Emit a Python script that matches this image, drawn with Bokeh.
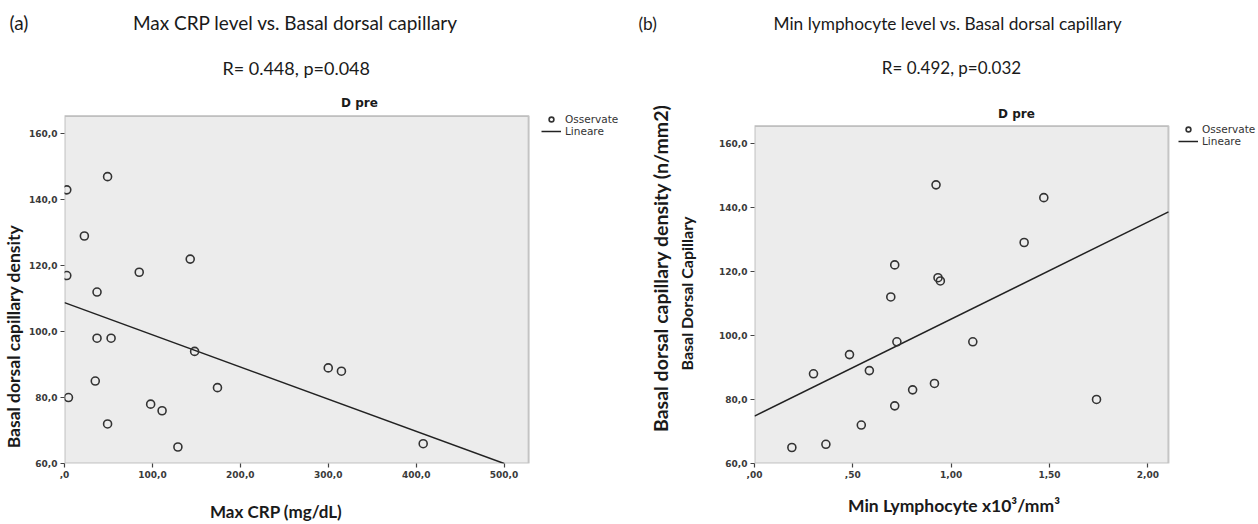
from bokeh.plotting import figure
from bokeh.layouts import row
from bokeh.models import (Label, FixedTicker, Legend, LegendItem, Range1d,
                          LinearAxis, Title, BoxAnnotation)
from bokeh.embed import file_html
from bokeh.resources import INLINE

# ---------------- data ----------------
crp = [2.6, 49, 22.6, 2.6, 85, 143, 37, 37, 53, 148, 35, 4.5, 174, 98, 111, 49, 129, 300, 315, 408]
density_a = [143, 147, 129, 117, 118, 122, 112, 98, 98, 94, 85, 80, 83, 78, 76, 72, 65, 89, 88, 66]
fit_a = [108.8, -0.0976]          # intercept, slope of the linear fit

lymph = [0.19, 0.30, 0.363, 0.483, 0.543, 0.584, 0.693, 0.713, 0.724, 0.713,
         0.804, 0.915, 0.923, 0.933, 0.945, 1.11, 1.371, 1.471, 1.739]
density_b = [65, 88, 66, 94, 72, 89, 112, 122, 98, 78, 83, 85, 147, 118, 117, 98, 129, 143, 80]
fit_b = [74.8, 30.3]

xbox_a = [0, 528]
xbox_b = [0, 2.105]
ybox = [60, 165.4]
xticks_a = [0, 100, 200, 300, 400, 500]
xlabels_a = [",0", "100,0", "200,0", "300,0", "400,0", "500,0"]
xticks_b = [0, 0.5, 1.0, 1.5, 2.0]
xlabels_b = [",00", ",50", "1,00", "1,50", "2,00"]
yticks = [60, 80, 100, 120, 140, 160]
ylabels = ["60,0", "80,0", "100,0", "120,0", "140,0", "160,0"]

TXT = "#1a1a1a"
EM, EN, PER4 = "\u2003", "\u2002", "\u2005"
H = 524
TOP = 40          # frame top (title row above it)
BOTTOM = 463      # frame bottom = x axis of both panels
W_A = 636         # left figure width; right figure starts here


def pad(text, shift, fs, side):
    """pad text with em/en spaces so that its visible part moves by `shift` px"""
    total = 2 * shift
    emw = 0.765 * fs
    n = int(total // emw)
    s = EM * n + (EN if total - n * emw > emw * 0.25 else "")
    return text + s if side == "end" else s + text


def style_axis(ax):
    ax.axis_line_color = None
    ax.major_tick_line_color = "#444444"
    ax.major_tick_line_width = 1.2
    ax.major_tick_in = 0
    ax.major_tick_out = 4
    ax.minor_tick_line_color = None
    ax.major_label_text_font = "DejaVu Sans"
    ax.major_label_text_font_style = "bold"
    ax.major_label_text_font_size = "9px"
    ax.major_label_text_color = "#3a3a3a"
    ax.major_label_standoff = 3
    ax.axis_label_text_font = "Lato"
    ax.axis_label_text_font_style = "bold"
    ax.axis_label_text_color = TXT


def lab(p, x, y, text, size, font="Lato", bold=False):
    p.add_layout(Label(x=x, y=y, x_units="screen", y_units="screen", text=text,
                       text_font=font, text_font_size=size,
                       text_font_style="bold" if bold else "normal",
                       text_align="center", text_baseline="middle", text_color=TXT))


def panel(xs, ys, fit, xbox, xt, xl, w, left, box_right, box_top, leg_dx):
    fw = w - left
    bw = box_right - left
    x_end = xbox[1] * fw / bw
    y_end = ybox[0] + (ybox[1] - ybox[0]) * (BOTTOM - TOP) / (BOTTOM - box_top)
    p = figure(width=w, height=H, x_range=Range1d(xbox[0], x_end), y_range=Range1d(ybox[0], y_end),
               output_backend="svg", toolbar_location=None, title=None,
               min_border_left=left, min_border_right=0, min_border_top=TOP,
               min_border_bottom=H - BOTTOM)
    p.background_fill_color = "white"
    p.border_fill_color = "white"
    p.outline_line_color = None
    p.grid.visible = False
    style_axis(p.xaxis[0])
    style_axis(p.yaxis[0])
    p.xaxis.ticker = FixedTicker(ticks=xt)
    p.xaxis.major_label_overrides = {t: l for t, l in zip(xt, xl)}
    p.yaxis.ticker = FixedTicker(ticks=yticks)
    p.yaxis.major_label_overrides = {t: l for t, l in zip(yticks, ylabels)}

    p.add_layout(BoxAnnotation(left=xbox[0], right=xbox[1], bottom=ybox[0], top=ybox[1],
                               fill_color="#ececec", fill_alpha=1.0, line_color="#555555",
                               line_width=2, level="underlay"))

    b0, b1 = fit
    xe = xbox[1]
    if b0 + b1 * xe < ybox[0]:
        xe = (ybox[0] - b0) / b1
    ln = p.line([xbox[0], xe], [b0, b0 + b1 * xe], line_color="#222222", line_width=1.5)
    sc = p.scatter(xs, ys, marker="circle", size=8, fill_color=None,
                   line_color="#333333", line_width=1.6)

    leg = Legend(items=[LegendItem(label="Osservate", renderers=[sc]),
                        LegendItem(label="Lineare", renderers=[ln])],
                 location=(bw + leg_dx, BOTTOM - box_top - 24), glyph_width=20, glyph_height=12,
                 label_height=12, padding=0, margin=0, spacing=0, label_standoff=4,
                 background_fill_alpha=0, border_line_alpha=0,
                 label_text_font="DejaVu Sans", label_text_font_size="10.5px",
                 label_text_color="#333333")
    p.add_layout(leg)
    return p


# ---------------- panel (a): box 63..528 x 113..463 ----------------
pa = panel(crp, density_a, fit_a, xbox_a, xticks_a, xlabels_a,
           w=W_A, left=63, box_right=528, box_top=113, leg_dx=12)
pa.add_layout(Title(text="(a)" + EM * 7 + PER4 + "Max CRP level vs. Basal dorsal capillary",
                    align="left", offset=8 - 63, vertical_align="middle", standoff=18,
                    text_font="Lato", text_font_size="19px", text_font_style="normal",
                    text_color=TXT), "above")
lab(pa, 297 - 63, BOTTOM - 67, "R= 0.448,  p=0.048", "18px")
lab(pa, 358 - 63, BOTTOM - 102, "D pre", "12px", font="DejaVu Sans", bold=True)
fs = 17.5
pa.yaxis.axis_label = pad("Basal dorsal capillary density", 335 - (TOP + BOTTOM) / 2, fs, "end")
pa.yaxis.axis_label_text_font_size = f"{fs}px"
pa.yaxis.axis_label_standoff = 2
fs = 17
pa.xaxis.axis_label = pad("Max CRP (mg/dL)", (63 + W_A) / 2 - 273, fs, "end")
pa.xaxis.axis_label_text_font_size = f"{fs}px"
pa.xaxis.axis_label_standoff = 20

# ---------------- panel (b): box 754..1168 x 123..463 ----------------
pb = panel(lymph, density_b, fit_b, xbox_b, xticks_b, xlabels_b,
           w=1258 - W_A, left=754 - W_A, box_right=1168 - W_A, box_top=123, leg_dx=10)
pb.add_layout(Title(text="(b)" + EM * 8 + EN + PER4 + "Min lymphocyte level vs. Basal dorsal capillary",
                    align="left", offset=638 - 754, vertical_align="middle", standoff=18,
                    text_font="Lato", text_font_size="17.3px", text_font_style="normal",
                    text_color=TXT), "above")
lab(pb, 951 - 754, BOTTOM - 67, "R= 0.492, p=0.032", "17px")
lab(pb, 1016 - 754, BOTTOM - 113, "D pre", "12px", font="DejaVu Sans", bold=True)
fs = 16
pb.yaxis.axis_label = pad("Basal Dorsal Capillary", 291 - (TOP + BOTTOM) / 2, fs, "end")
pb.yaxis.axis_label_text_font_size = f"{fs}px"
pb.yaxis.axis_label_standoff = 20
fs = 19.5
outer = LinearAxis(ticker=FixedTicker(ticks=[]), axis_line_color=None,
                   major_tick_line_color=None, minor_tick_line_color=None,
                   axis_label=pad("Basal dorsal capillary density (n/mm2)", 268 - (TOP + BOTTOM) / 2, fs, "end"),
                   axis_label_text_font="Lato", axis_label_text_font_style="bold",
                   axis_label_text_font_size=f"{fs}px", axis_label_text_color=TXT,
                   axis_label_standoff=3)
pb.add_layout(outer, "left")
fs = 17.5
pb.xaxis.axis_label = pad("Min Lymphocyte x10³/mm³", (754 + 1258) / 2 - 952, fs, "end")
pb.xaxis.axis_label_text_font_size = f"{fs}px"
pb.xaxis.axis_label_standoff = 14

layout = row(pa, pb, spacing=0)
open("out.html", "w").write(file_html(layout, INLINE))
